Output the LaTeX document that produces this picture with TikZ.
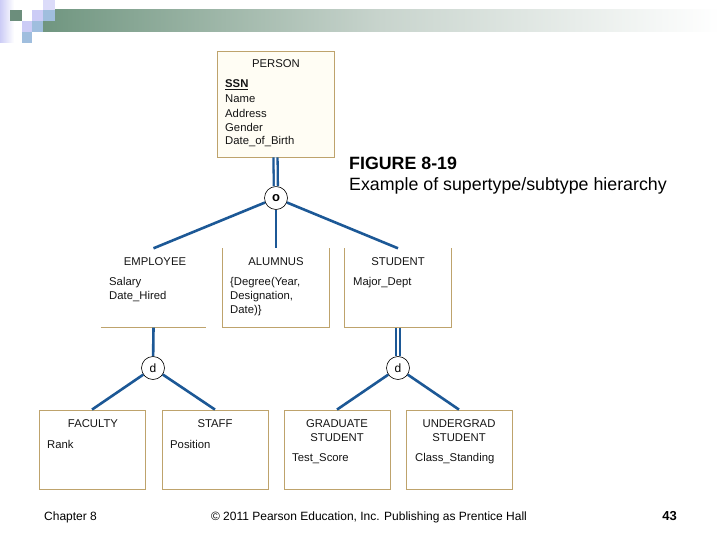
\documentclass[tikz,border=0pt]{standalone}
\usepackage{fontspec}
\setmainfont{Liberation Sans}
\definecolor{conn}{RGB}{28,88,150}
\definecolor{tan}{RGB}{190,163,108}
\definecolor{txt}{RGB}{20,20,20}
\definecolor{barL}{RGB}{112,150,128}
\definecolor{lav}{RGB}{204,204,246}
\definecolor{lblue}{RGB}{160,190,222}
\definecolor{dteal}{RGB}{108,142,124}
\definecolor{cream}{RGB}{255,253,244}
\tikzset{
  ebox/.style={draw=tan, line width=0.8pt, fill=white, inner sep=0pt},
  ghost/.style={inner sep=0pt},
  ent/.style={font=\fontsize{11.3}{13}\selectfont, text=txt, inner sep=0pt},
  att/.style={ent, anchor=west},
  link/.style={draw=conn, line width=2.6pt},
  dlink/.style={draw=conn, line width=2.3pt, double=white, double distance=1.8pt},
  cat/.style={circle, draw=black, line width=0.6pt, fill=white, minimum size=23pt, inner sep=0pt, font=\fontsize{12}{13}\selectfont},
}
\begin{document}
\begin{tikzpicture}[x=1pt,y=-1pt]
\useasboundingbox (0,0) rectangle (720,540);
\fill[white] (0,0) rectangle (720,540);
% header decoration
\shade[left color=barL, right color=white, middle color={rgb,255:red,200;green,212;blue,205}] (43,10) rectangle (720,32);
\shade[left color=lav, right color=white] (0,0) rectangle (14,43);
\fill[dteal] (10,10) rectangle (22,21);
\fill[lav] (32,10) rectangle (43,21);
\fill[lav!70] (43,0) rectangle (55,10);
\fill[lblue] (43,10) rectangle (55,21);
\fill[lav] (22,21) rectangle (32,32);
\fill[lblue] (32,21) rectangle (43,32);
\fill[lblue] (22,32) rectangle (32,43);

% PERSON
\node[ebox, fill=cream, minimum width=117pt, minimum height=106pt] (person) at (275.5,104) {};
\node[ent] (personT) at (276,64) {PERSON};
\node[att] (pa1) at (225,85) {\underline{\textbf{SSN}}};
\node[att] (pa2) at (225,99) {Name};
\node[att] (pa3) at (225,113) {Address};
\node[att] (pa4) at (225,127) {Gender};
\node[att] (pa5) at (225,142) {Date\_of\_Birth};

% level 2 boxes (partial borders)
\node[ghost, minimum width=105pt, minimum height=79pt] (employee) at (153.5,288) {};
\node[ghost, minimum width=106pt, minimum height=79pt] (alumnus) at (276,288) {};
\node[ghost, minimum width=106pt, minimum height=79pt] (student) at (398,288) {};
\draw[tan, line width=0.8pt] (employee.south west) -- (employee.south east);
\draw[tan, line width=0.8pt] (alumnus.north west) -- (alumnus.south west) -- (alumnus.south east) -- (alumnus.north east);
\draw[tan, line width=0.8pt] (student.north west) -- (student.south west) -- (student.south east) -- (student.north east);

\node[ent] (empT) at (155,262) {EMPLOYEE};
\node[att] (ea1) at (109,283) {Salary};
\node[att] (ea2) at (109,297) {Date\_Hired};
\node[ent] (aluT) at (276,262) {ALUMNUS};
\node[att] (aa1) at (230,283) {\{Degree(Year,};
\node[att] (aa2) at (230,297) {Designation,};
\node[att] (aa3) at (230,311) {Date)\}};
\node[ent] (stuT) at (398,262) {STUDENT};
\node[att] (sa1) at (353,283) {Major\_Dept};

% level 3 boxes
\node[ebox, minimum width=106pt, minimum height=79pt] (faculty) at (92,449.5) {};
\node[ebox, minimum width=106pt, minimum height=79pt] (staff) at (215,449.5) {};
\node[ebox, minimum width=106pt, minimum height=79pt] (grad) at (337,449.5) {};
\node[ebox, minimum width=106pt, minimum height=79pt] (under) at (459,449.5) {};
\node[ent] (facT) at (93,424) {FACULTY};
\node[att] (fa1) at (47,444) {Rank};
\node[ent] (staT) at (215,424) {STAFF};
\node[att] (sta1) at (170,444) {Position};
\node[ent, align=center, font=\fontsize{11.3}{13.5}\selectfont] (grT) at (337,430.5) {GRADUATE\\STUDENT};
\node[att] (ga1) at (292,459) {Test\_Score};
\node[ent, align=center, font=\fontsize{11.3}{13.5}\selectfont] (unT) at (459,430.5) {UNDERGRAD\\STUDENT};
\node[att] (ua1) at (415,459) {Class\_Standing};

% category circles
\node[cat, font=\fontsize{13}{14}\selectfont\bfseries] (c1) at (276,198) {o};
\node[cat] (c2) at (153,368) {d};
\node[cat] (c3) at (398,368) {d};

% connectors
\draw[dlink] (person.south) -- (c1);
\draw[link] (c1) -- (employee.north);
\draw[link] (c1) -- (alumnus.north);
\draw[link] (c1) -- (student.north);
\draw[link] (employee.south) -- (c2);
\draw[link] (c2) -- (faculty.north);
\draw[link] (c2) -- (staff.north);
\draw[dlink] (student.south) -- (c3);
\draw[link] (c3) -- (grad.north);
\draw[link] (c3) -- (under.north);

% caption
\node[anchor=west, inner sep=0pt, font=\fontsize{17.8}{20}\selectfont\bfseries] (figT) at (349,163) {FIGURE 8-19};
\node[anchor=west, inner sep=0pt, font=\fontsize{17.8}{20}\selectfont] (figS) at (349,186) {Example of supertype/subtype hierarchy};

% footer
\node[anchor=west, inner sep=0pt, font=\fontsize{12}{14}\selectfont] (chap) at (44,517) {Chapter 8};
\node[inner sep=0pt, font=\fontsize{12}{14}\selectfont] (copy) at (369,517) {© 2011 Pearson Education, Inc. Publishing as Prentice Hall};
\node[anchor=east, inner sep=0pt, font=\fontsize{13}{15}\selectfont\bfseries] (pg) at (677,516) {43};
\end{tikzpicture}
\end{document}
